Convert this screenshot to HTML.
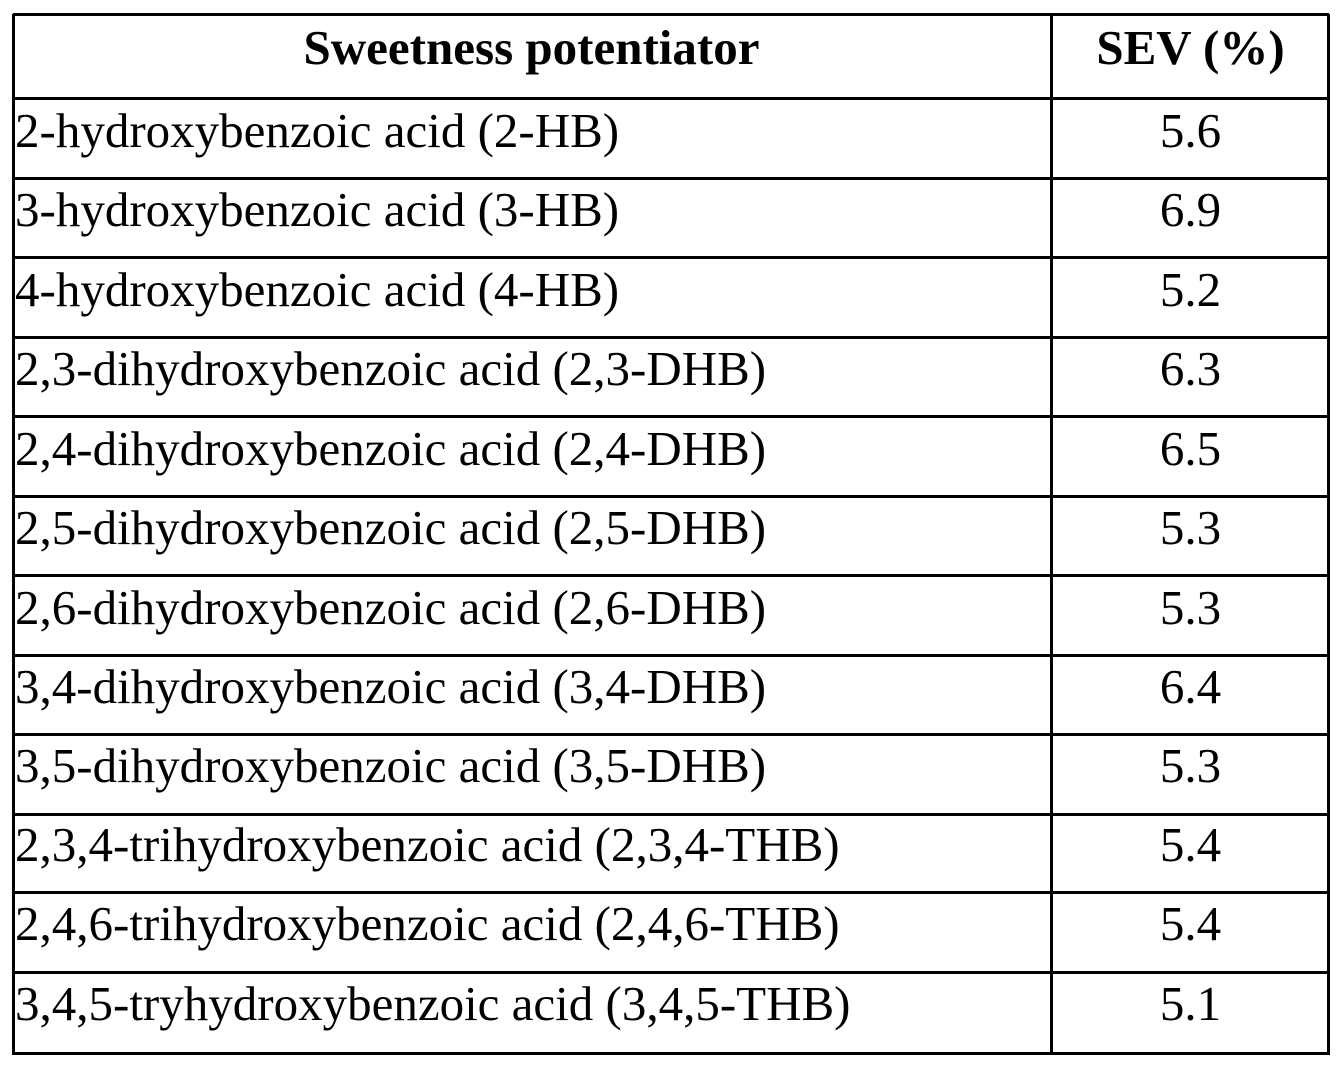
<!DOCTYPE html>
<html><head><style>
html,body{margin:0;padding:0;background:#fff;}
body{width:1343px;height:1069px;position:relative;overflow:hidden;font-family:"Liberation Serif",serif;color:#000;}
.h{position:absolute;left:13px;width:1316px;height:3px;background:#000;}
.v{position:absolute;top:14px;height:1041px;width:3px;background:#000;}
.t{position:absolute;height:80px;line-height:80px;font-size:49px;white-space:nowrap;}
.l{left:15px;}
.r{left:1053px;width:275px;text-align:center;}
.b{font-weight:bold;font-size:49px;}
</style></head><body>
<div class="h" style="top:13px"></div>
<div class="h" style="top:97px"></div>
<div class="h" style="top:177px"></div>
<div class="h" style="top:256px"></div>
<div class="h" style="top:336px"></div>
<div class="h" style="top:415px"></div>
<div class="h" style="top:495px"></div>
<div class="h" style="top:574px"></div>
<div class="h" style="top:654px"></div>
<div class="h" style="top:733px"></div>
<div class="h" style="top:813px"></div>
<div class="h" style="top:891px"></div>
<div class="h" style="top:971px"></div>
<div class="h" style="top:1052px"></div>
<div class="v" style="left:12px"></div>
<div class="v" style="left:1050px"></div>
<div class="v" style="left:1327px"></div>

<div class="t b" style="top:8px;left:13px;width:1037px;text-align:center;">Sweetness potentiator</div>
<div class="t b r" style="top:8px;">SEV (%)</div>

<div class="t l" style="top:91px">2-hydroxybenzoic acid (2-HB)</div><div class="t r" style="top:91px">5.6</div>
<div class="t l" style="top:170px">3-hydroxybenzoic acid (3-HB)</div><div class="t r" style="top:170px">6.9</div>
<div class="t l" style="top:250px">4-hydroxybenzoic acid (4-HB)</div><div class="t r" style="top:250px">5.2</div>
<div class="t l" style="top:329px">2,3-dihydroxybenzoic acid (2,3-DHB)</div><div class="t r" style="top:329px">6.3</div>
<div class="t l" style="top:409px">2,4-dihydroxybenzoic acid (2,4-DHB)</div><div class="t r" style="top:409px">6.5</div>
<div class="t l" style="top:488px">2,5-dihydroxybenzoic acid (2,5-DHB)</div><div class="t r" style="top:488px">5.3</div>
<div class="t l" style="top:568px">2,6-dihydroxybenzoic acid (2,6-DHB)</div><div class="t r" style="top:568px">5.3</div>
<div class="t l" style="top:647px">3,4-dihydroxybenzoic acid (3,4-DHB)</div><div class="t r" style="top:647px">6.4</div>
<div class="t l" style="top:726px">3,5-dihydroxybenzoic acid (3,5-DHB)</div><div class="t r" style="top:726px">5.3</div>
<div class="t l" style="top:805px">2,3,4-trihydroxybenzoic acid (2,3,4-THB)</div><div class="t r" style="top:805px">5.4</div>
<div class="t l" style="top:884px">2,4,6-trihydroxybenzoic acid (2,4,6-THB)</div><div class="t r" style="top:884px">5.4</div>
<div class="t l" style="top:964px">3,4,5-tryhydroxybenzoic acid (3,4,5-THB)</div><div class="t r" style="top:964px">5.1</div>
</body></html>
